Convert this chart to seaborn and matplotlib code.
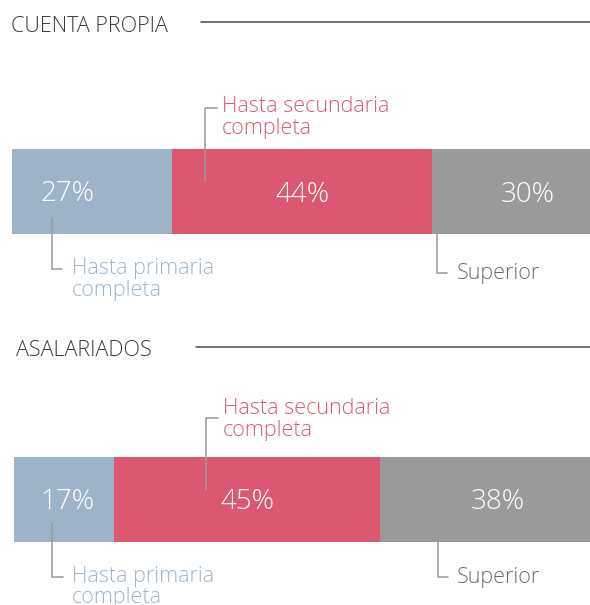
import matplotlib
matplotlib.use("Agg")
import matplotlib.pyplot as plt
import seaborn as sns
import pandas as pd
import numpy as np

# ---- data ----
groups = ["CUENTA PROPIA", "ASALARIADOS"]
levels = ["Hasta primaria\ncompleta", "Hasta secundaria\ncompleta", "Superior"]
cuenta_propia = [27, 44, 30]
asalariados = [17, 45, 38]
series = [cuenta_propia, asalariados]

# ---- style ----
sns.set_theme(style="white")
plt.rcParams["font.family"] = ["Open Sans", "DejaVu Sans"]
bar_colors = ["#9db3c7", "#db5870", "#9a9a9b"]
label_colors = ["#9fb6ca", "#dc5a72", "#6e6e6e"]
title_color = "#3c3c3c"
lead_color = "#9a9a9a"
FW = 300

W, H = 590, 605
fig = plt.figure(figsize=(W / 100, H / 100), dpi=100)

# bar axes placement (pixels): left, top, bottom
bar_boxes = [(12, 149, 234), (13.5, 457, 542)]
px_per_pct = 5.91

for vals, (left, top, bot), grp in zip(series, bar_boxes, groups):
    ax = fig.add_axes([left / W, 1 - bot / H, (W - left) / W, (bot - top) / H])
    cum = np.cumsum(vals)
    for i in range(len(vals) - 1, -1, -1):
        df = pd.DataFrame({"value": [cum[i]], "group": [grp]})
        sns.barplot(data=df, x="value", y="group", orient="h", color=bar_colors[i],
                    width=1.0, saturation=1.0, ax=ax, errorbar=None, linewidth=0)
    ax.set_xlim(0, (W - left) / px_per_pct)
    ax.set_ylim(0.5, -0.5)
    ax.axis("off")

# overlay axes in pixel coordinates for annotations
ov = fig.add_axes([0, 0, 1, 1])
ov.set_xlim(0, W)
ov.set_ylim(H, 0)
ov.axis("off")

# titles and rules
title_pos = [(11, 31.5, 201, 21.7), (16.5, 355.5, 196, 347.3)]
for grp, (tx, ty, lx, ly) in zip(groups, title_pos):
    ov.text(tx, ty, grp, fontsize=15.5, color=title_color, va="baseline", ha="left",
            fontweight=FW)
    ov.plot([lx, W], [ly, ly], color="#4a4a4a", lw=1.1)

# percent labels (center x, baseline y)
pct_pos = [[(67, 201), (302, 202), (528, 202)],
           [(67, 509), (247.5, 509), (497.7, 509)]]
for vals, poss in zip(series, pct_pos):
    for v, (x, y) in zip(vals, poss):
        ov.text(x, y, f"{v}%", fontsize=20, color="white", ha="center",
                va="baseline", fontweight=FW)

# category labels with leader lines
label_pos = [
    [(71.7, 274.3), (222, 112.3), (456.7, 279.3)],
    [(71.7, 581.7), (222.7, 414.3), (457.3, 583.3)],
]
leaders = [
    [[(51.7, 217.7), (51.7, 269.3), (61.7, 269.3)],
     [(216.7, 108), (204.7, 108), (204.7, 181)],
     [(436.7, 220.7), (436.7, 273.3), (447.3, 273.3)]],
    [[(52.3, 523.3), (52.3, 577.3), (63.3, 577.3)],
     [(218.3, 418.3), (205.7, 418.3), (205.7, 490)],
     [(437.7, 524), (437.7, 577.3), (448.3, 577.3)]],
]
for poss, leads in zip(label_pos, leaders):
    for lev, col, (x, y), pts in zip(levels, label_colors, poss, leads):
        lines = lev.split("\n")
        for k, line in enumerate(lines):
            ov.text(x, y + k * 21.3, line, fontsize=15.5, color=col, ha="left",
                    va="baseline", fontweight=FW)
        xs, ys = zip(*pts)
        ov.plot(xs, ys, color=lead_color, lw=1.1, solid_joinstyle="miter")

fig.savefig("out.png", dpi=100)
